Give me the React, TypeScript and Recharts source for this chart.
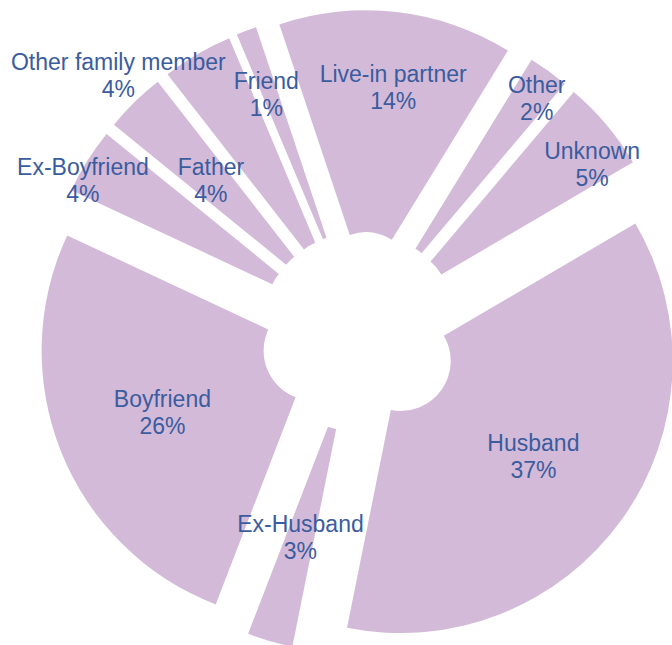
import { Pie, PieChart, Sector } from 'recharts'

// share of victims by relationship to offender (percent)
const CATEGORIES = [
  'Live-in partner',
  'Other',
  'Unknown',
  'Husband',
  'Ex-Husband',
  'Boyfriend',
  'Ex-Boyfriend',
  'Father',
  'Other family member',
  'Friend',
]
const SHARES = [13.9, 2.4, 5.4, 36.6, 2.7, 26.1, 3.9, 3.6, 4.2, 1.2]

const data = CATEGORIES.map((name, i) => ({ name, value: SHARES[i] }))

const SLICE_FILL = '#d2bad8'
const LABEL_COLOR = '#3b5c9e'
const EXPLODE = 50
const RAD = Math.PI / 180

// labels Excel pushed away from the ring centre to avoid collisions
const LABEL_PLACEMENT: Record<string, { radius: number; turn: number }> = {
  'Live-in partner': { radius: 197, turn: 1.5 },
  Other: { radius: 243, turn: 1.5 },
  Unknown: { radius: 237, turn: 5 },
  'Ex-Boyfriend': { radius: 266, turn: -4 },
  'Other family member': { radius: 304, turn: -15 },
  Friend: { radius: 206, turn: -1 },
}

function explodedCentre(cx: number, cy: number, midAngle: number) {
  return {
    x: cx + EXPLODE * Math.cos(midAngle * RAD),
    y: cy - EXPLODE * Math.sin(midAngle * RAD),
  }
}

function renderSlice(props: any) {
  const { cx, cy, midAngle, innerRadius, outerRadius, startAngle, endAngle, index } = props
  const c = explodedCentre(cx, cy, midAngle)
  return (
    <Sector
      key={`slice-${index}`}
      cx={c.x}
      cy={c.y}
      innerRadius={innerRadius}
      outerRadius={outerRadius}
      startAngle={startAngle}
      endAngle={endAngle}
      fill={SLICE_FILL}
      stroke="none"
    />
  )
}

function renderLabel(props: any) {
  const { cx, cy, midAngle, innerRadius, outerRadius, name, percent, index } = props
  const c = explodedCentre(cx, cy, midAngle)
  const place = LABEL_PLACEMENT[name] ?? { radius: (innerRadius + outerRadius) / 2 + 2, turn: 0 }
  const a = (midAngle - place.turn) * RAD
  const x = c.x + place.radius * Math.cos(a)
  const y = c.y - place.radius * Math.sin(a)
  return (
    <text
      key={`label-${index}`}
      x={x}
      y={y}
      textAnchor="middle"
      fill={LABEL_COLOR}
      fontSize={23}
      fontFamily="'Liberation Sans', Arial, sans-serif"
    >
      <tspan x={x} y={y - 5}>
        {name}
      </tspan>
      <tspan x={x} y={y + 22}>
        {`${Math.round(percent * 100)}%`}
      </tspan>
    </text>
  )
}

export default function App() {
  return (
    <div style={{ position: 'absolute', left: 0, top: 0, width: 672, height: 645, background: '#fff' }}>
      <PieChart width={672} height={645} margin={{ top: 0, right: 0, bottom: 0, left: 0 }}>
        <Pie
          data={data}
          dataKey="value"
          nameKey="name"
          cx={360}
          cy={332}
          innerRadius={50}
          outerRadius={272}
          startAngle={108.5}
          endAngle={-251.5}
          fill="transparent"
          stroke="none"
          label={renderSlice}
          labelLine={false}
          isAnimationActive={false}
        />
        <Pie
          data={data}
          dataKey="value"
          nameKey="name"
          cx={360}
          cy={332}
          innerRadius={50}
          outerRadius={272}
          startAngle={108.5}
          endAngle={-251.5}
          fill="transparent"
          stroke="none"
          label={renderLabel}
          labelLine={false}
          isAnimationActive={false}
        />
      </PieChart>
    </div>
  )
}
